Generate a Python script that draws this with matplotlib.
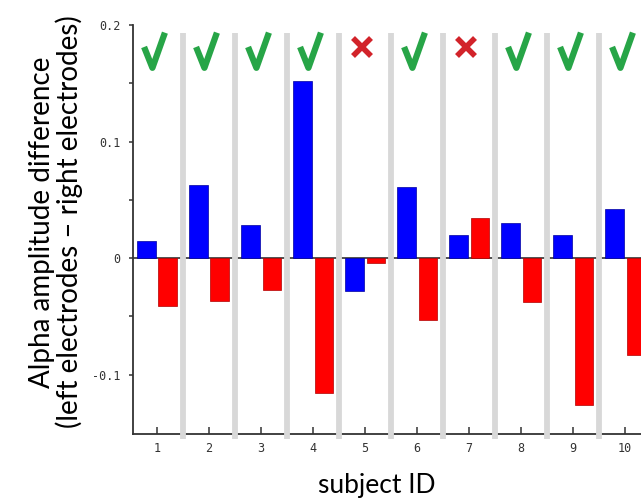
import matplotlib
matplotlib.use('Agg')
import matplotlib.pyplot as plt
from matplotlib.path import Path
import numpy as np

subjects = [1, 2, 3, 4, 5, 6, 7, 8, 9, 10]
left_vals = [0.015, 0.063, 0.028, 0.152, -0.028, 0.061, 0.020, 0.030, 0.020, 0.042]
right_vals = [-0.041, -0.037, -0.027, -0.116, -0.004, -0.053, 0.034, -0.038, -0.126, -0.083]
consistent = [True, True, True, True, False, True, False, True, True, True]

fig = plt.figure(figsize=(6.41, 4.98), dpi=100)
ax = fig.add_axes([133 / 641, 64 / 498, 1 - 133 / 641, (434 - 25) / 498])

x = np.array(subjects)
w = 0.36
ax.bar(x - 0.2, left_vals, w, color='#0000ff', edgecolor='#0000a0', linewidth=0.5, zorder=3)
ax.bar(x + 0.21, right_vals, w, color='#ff0000', edgecolor='#b00000', linewidth=0.5, zorder=3)
ax.axhline(0, color='#333333', lw=1.2, zorder=2)

# gray separators between subjects
for s in x[:-1] + 0.5:
    ax.plot([s, s], [-0.155, 0.193], color='#d8d8d8', lw=4.2, solid_capstyle='butt',
            clip_on=False, zorder=4)

# check / cross marks
check = Path([(-0.4, 0.25), (-0.08, -0.55), (0.4, 0.8)],
             [Path.MOVETO, Path.LINETO, Path.LINETO])
for s, ok in zip(x, consistent):
    if ok:
        ax.plot(s - 0.05, 0.176, marker=check, ms=30, mew=4.5, mec='#27a547', mfc='none',
                clip_on=False, zorder=5)
    else:
        ax.plot(s - 0.05, 0.181, marker='x', ms=13, mew=4, mec='#d2232a',
                clip_on=False, zorder=5)

ax.set_xlim(0.54, 10 + 16 / 52)
ax.set_ylim(-0.151, 0.2)
ax.set_xticks(subjects)
ax.set_yticks([-0.1, 0, 0.1, 0.2])
ax.set_yticklabels(['-0.1', '0', '0.1', '0.2'])
ax.set_yticks([-0.05, 0.05, 0.15], minor=True)
for sp in ['top', 'right']:
    ax.spines[sp].set_visible(False)
for sp in ['left', 'bottom']:
    ax.spines[sp].set_color('#333333')
    ax.spines[sp].set_linewidth(1.3)
ax.tick_params(axis='x', direction='in', length=5, width=1.1, color='#333333',
               labelsize=8.5, labelcolor='#333333', pad=6)
ax.tick_params(axis='y', which='both', direction='out', length=3, width=1.1,
               color='#333333', labelsize=8.5, labelcolor='#333333', pad=6)
for lab in ax.get_xticklabels() + ax.get_yticklabels():
    lab.set_family('DejaVu Sans Mono')

ax.set_xlabel('subject ID', fontsize=19, family='Lato')
ax.xaxis.set_label_coords((377 - 133) / (641 - 133), -0.095)
ax.set_ylabel('Alpha amplitude difference\n(left electrodes \u2013 right electrodes)',
              fontsize=20, family='Lato', linespacing=1.0)
ax.yaxis.set_label_coords(-(133 - 83) / (641 - 133), (434 - 222) / 409)

fig.savefig('out.png', dpi=100)
